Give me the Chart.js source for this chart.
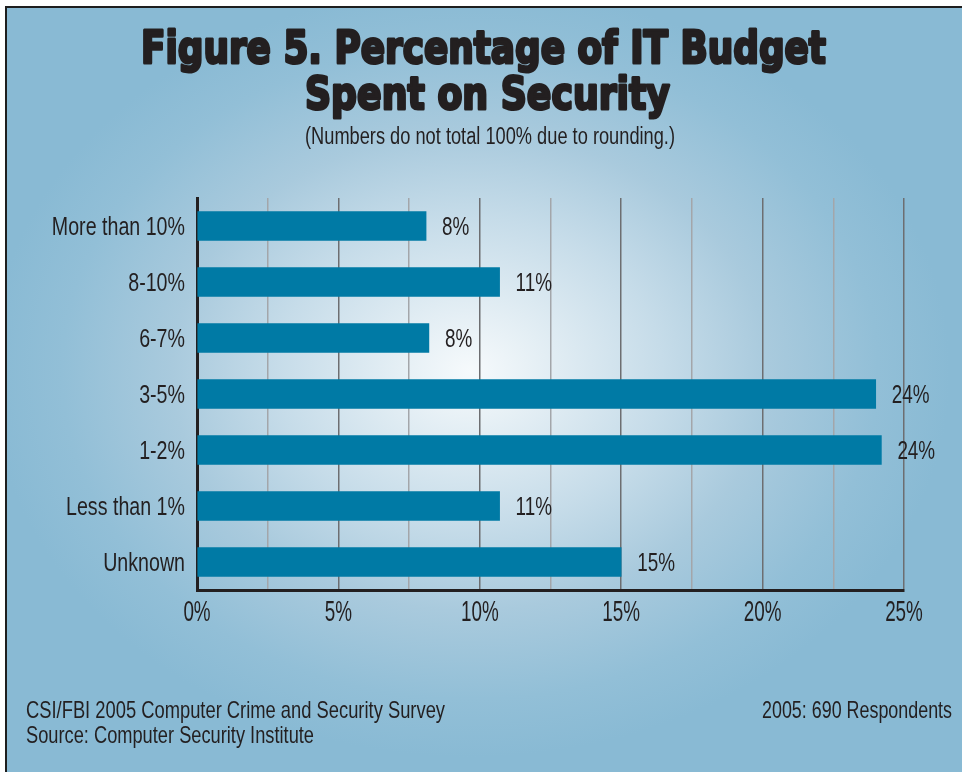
<!DOCTYPE html>
<html lang="en">
<head>
<meta charset="utf-8">
<title>Figure 5. Percentage of IT Budget Spent on Security</title>
<script src="https://cdnjs.cloudflare.com/ajax/libs/Chart.js/4.4.1/chart.umd.min.js"></script>
<style>
    body { margin: 0; background: #fff; }
    canvas { display: block; }
</style>
</head>
<body>
<canvas id="myChart" width="962" height="772"></canvas>
<script>
    // data
    const categories = ['More than 10%', '8-10%', '6-7%', '3-5%', '1-2%', 'Less than 1%', 'Unknown'];
    const barValues = [8.1, 10.7, 8.2, 24.0, 24.2, 10.7, 15.0];
    const valueLabels = ['8%', '11%', '8%', '24%', '24%', '11%', '15%'];
    const tickValues = [0, 5, 10, 15, 20, 25];
    const tickLabels = ['0%', '5%', '10%', '15%', '20%', '25%'];

    const titleLine1 = 'Figure 5. Percentage of IT Budget';
    const titleLine2 = 'Spent on Security';
    const subTitle = '(Numbers do not total 100% due to rounding.)';
    const footLeft1 = 'CSI/FBI 2005 Computer Crime and Security Survey';
    const footLeft2 = 'Source: Computer Security Institute';
    const footRight = '2005: 690 Respondents';

    const ink = '#231f20';
    const barColor = '#007aa5';

    // squeeze text into a given width (condensed look)
    function fitText(ctx, text, x, y, font, width, align, stroke) {
        ctx.save();
        ctx.font = font;
        const w = ctx.measureText(text).width;
        ctx.translate(x, y);
        ctx.scale(width / w, 1);
        ctx.textAlign = align;
        ctx.textBaseline = 'alphabetic';
        ctx.fillStyle = ink;
        ctx.fillText(text, 0, 0);
        if (stroke) {
            ctx.strokeStyle = ink;
            ctx.lineWidth = stroke;
            ctx.lineJoin = 'round';
            ctx.strokeText(text, 0, 0);
        }
        ctx.restore();
    }

    // fixed horizontal squeeze, no target width
    function squeezeText(ctx, text, x, y, font, sx, align) {
        ctx.save();
        ctx.font = font;
        ctx.translate(x, y);
        ctx.scale(sx, 1);
        ctx.textAlign = align;
        ctx.textBaseline = 'alphabetic';
        ctx.fillStyle = ink;
        ctx.fillText(text, 0, 0);
        ctx.restore();
    }

    const backdrop = {
        id: 'backdrop',
        beforeDraw(chart) {
            const ctx = chart.ctx;
            const W = chart.width, H = chart.height;
            ctx.save();
            ctx.fillStyle = '#ffffff';
            ctx.fillRect(0, 0, W, H);
            const cx = 470, cy = 372, rx = 480, ry = 385;
            ctx.beginPath();
            ctx.rect(5, 6, W - 5, H - 6);
            ctx.clip();
            ctx.translate(cx, cy);
            ctx.scale(1, ry / rx);
            const g = ctx.createRadialGradient(0, 0, 0, 0, 0, rx);
            g.addColorStop(0, '#f6fafc');
            g.addColorStop(0.12, '#e8f1f6');
            g.addColorStop(0.4, '#c6dce9');
            g.addColorStop(0.62, '#a9cadd');
            g.addColorStop(0.85, '#92bfd7');
            g.addColorStop(1, '#89bad4');
            ctx.fillStyle = g;
            ctx.fillRect(-cx - 10, -cy * rx / ry - 10, W + 20, H * rx / ry + 20);
            ctx.restore();
            ctx.save();
            ctx.fillStyle = '#1e1e1e';
            ctx.fillRect(5, 6, W - 5, 2);
            ctx.fillRect(5, 6, 2, H - 6);
            ctx.restore();
        },
        afterDraw(chart) {
            const ctx = chart.ctx;
            fitText(ctx, titleLine1, 483.5, 63, "bold 45px 'DejaVu Sans'", 685, 'center', 3);
            fitText(ctx, titleLine2, 487.5, 109, "bold 45px 'DejaVu Sans'", 365, 'center', 3);
            fitText(ctx, subTitle, 490, 144, "23px 'Liberation Sans'", 370, 'center');
            fitText(ctx, footLeft1, 26, 718, "24px 'Liberation Sans'", 419, 'left');
            fitText(ctx, footLeft2, 26, 743, "24px 'Liberation Sans'", 288, 'left');
            fitText(ctx, footRight, 952, 718, "24px 'Liberation Sans'", 190, 'right');
        }
    };

    // axis labels and bar values, placed with the chart's own scales
    const axisText = {
        id: 'axisText',
        afterDatasetsDraw(chart) {
            const ctx = chart.ctx;
            const xs = chart.scales.x, ys = chart.scales.y;
            const area = chart.chartArea;
            categories.forEach(function (name, i) {
                squeezeText(ctx, name, area.left - 12, ys.getPixelForValue(i) + 9, "25.5px 'Liberation Sans'", 0.77, 'right');
            });
            tickValues.forEach(function (v, i) {
                squeezeText(ctx, tickLabels[i], xs.getPixelForValue(v), area.bottom + 31, "29px 'Liberation Sans'", 0.65, 'center');
            });
            chart.getDatasetMeta(0).data.forEach(function (bar, i) {
                squeezeText(ctx, valueLabels[i], bar.x + 16, bar.y + 9, "25.5px 'Liberation Sans'", 0.74, 'left');
            });
        }
    };

    const ctx = document.getElementById('myChart').getContext('2d');
    const myChart = new Chart(ctx, {
        type: 'bar',
        data: {
            labels: categories,
            datasets: [{
                data: barValues,
                backgroundColor: barColor,
                borderWidth: 0,
                barThickness: 29
            }]
        },
        options: {
            indexAxis: 'y',
            responsive: false,
            animation: false,
            devicePixelRatio: 1,
            layout: { padding: { left: 0, right: 58, top: 198, bottom: 0 } },
            plugins: {
                legend: { display: false },
                title: { display: false },
                tooltip: { enabled: false }
            },
            scales: {
                x: {
                    min: 0,
                    max: 25,
                    ticks: { stepSize: 2.5, display: false },
                    grid: {
                        drawTicks: false,
                        lineWidth: 1.5,
                        color: function (c) {
                            return c.tick && c.tick.value % 5 === 0 ? '#6d6e71' : '#a3a6aa';
                        }
                    },
                    border: { color: ink, width: 3 },
                    afterFit: function (scale) { scale.height = 182; }
                },
                y: {
                    ticks: { display: false },
                    grid: { display: false, drawTicks: false },
                    border: { color: ink, width: 3 },
                    afterFit: function (scale) { scale.width = 197; }
                }
            }
        },
        plugins: [backdrop, axisText]
    });
</script>
</body>
</html>
